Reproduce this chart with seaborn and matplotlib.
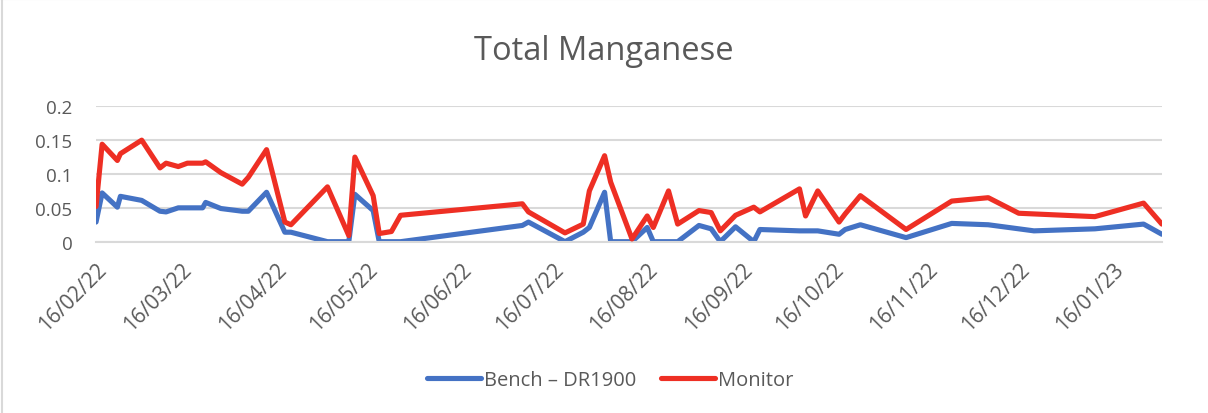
import numpy as np
import pandas as pd
import seaborn as sns
import matplotlib.dates as mdates
from matplotlib import pyplot as plt
from matplotlib.lines import Line2D

# days after 16/02/22 of each sample
days = [0, 2, 7, 8, 15, 21, 23, 27, 30, 35, 36, 41, 48, 50, 56, 62, 64, 76,
        83, 85, 91, 93, 97, 100, 140, 142, 154, 160, 162, 167, 169, 176, 181,
        183, 188, 191, 198, 202, 205, 210, 216, 218, 231, 233, 237, 244, 246,
        251, 266, 281, 293, 303, 308, 328, 344, 350]
bench = [0.029, 0.072, 0.051, 0.067, 0.061, 0.045, 0.044, 0.050, 0.050, 0.050,
         0.058, 0.049, 0.045, 0.045, 0.073, 0.014, 0.014, 0.0, 0.0, 0.070,
         0.046, 0.0, 0.0, 0.0, 0.024, 0.029, 0.0, 0.014, 0.021, 0.073, 0.0,
         0.0, 0.021, 0.0, 0.0, 0.0, 0.024, 0.019, 0.0, 0.022, 0.0, 0.018,
         0.016, 0.016, 0.016, 0.011, 0.018, 0.025, 0.006, 0.027, 0.025, 0.019,
         0.016, 0.019, 0.026, 0.011]
monitor = [0.052, 0.144, 0.120, 0.130, 0.150, 0.109, 0.116, 0.111, 0.116,
           0.116, 0.118, 0.102, 0.085, 0.095, 0.136, 0.029, 0.025, 0.081,
           0.009, 0.125, 0.068, 0.012, 0.015, 0.039, 0.056, 0.044, 0.013,
           0.026, 0.075, 0.127, 0.088, 0.004, 0.038, 0.021, 0.075, 0.026,
           0.046, 0.043, 0.016, 0.039, 0.051, 0.044, 0.078, 0.038, 0.075,
           0.029, 0.041, 0.068, 0.018, 0.060, 0.065, 0.042, 0.041, 0.037,
           0.057, 0.026]

BENCH_NAME = "Bench \u2013 DR1900"
MONITOR_NAME = "Monitor"
BLUE = "#4472C4"
RED = "#EE2F24"
TEXT = "#595959"
GRID = "#D9D9D9"

dates = pd.Timestamp("2022-02-16") + pd.to_timedelta(days, unit="D")
data = pd.concat([
    pd.DataFrame({"date": dates, "value": bench, "series": BENCH_NAME}),
    pd.DataFrame({"date": dates, "value": monitor, "series": MONITOR_NAME}),
], ignore_index=True)

sns.set_style("white")
plt.rcParams["font.family"] = ["Open Sans", "DejaVu Sans"]

fig = plt.figure(figsize=(12.08, 4.14), dpi=100)
ax = fig.add_axes([0.0795, 0.4138, 0.9618 - 0.0795, 0.7408 - 0.4138])

sns.lineplot(
    data=data, x="date", y="value", hue="series",
    hue_order=[BENCH_NAME, MONITOR_NAME], palette=[BLUE, RED],
    linewidth=3.7, legend=False, ax=ax,
)
# monitor drawn on top of bench
ax.lines[1].set_zorder(3)

ax.set_xlim(pd.Timestamp("2022-02-16"), pd.Timestamp("2023-02-01"))
ax.set_ylim(0, 0.2)
ax.set_yticks([0, 0.05, 0.1, 0.15, 0.2])
ax.set_yticklabels(["0", "0.05", "0.1", "0.15", "0.2"])
ax.xaxis.set_major_locator(mdates.MonthLocator(bymonthday=16))
ax.xaxis.set_major_formatter(mdates.DateFormatter("%d/%m/%y"))
ax.set_xlabel("")
ax.set_ylabel("")

ax.grid(axis="y", color=GRID, linewidth=1.5)
ax.grid(axis="x", visible=False)
for side in ["top", "right", "left"]:
    ax.spines[side].set_visible(False)
ax.spines["bottom"].set_color(GRID)
ax.spines["bottom"].set_linewidth(1.5)
ax.tick_params(axis="y", length=0, pad=17, labelsize=13.5, labelcolor=TEXT)
ax.tick_params(axis="x", length=6, width=1.5, color=GRID, pad=6,
               labelsize=15, labelcolor=TEXT)
for lbl in ax.get_xticklabels():
    lbl.set_rotation(45)
    lbl.set_ha("right")
    lbl.set_rotation_mode("anchor")

fig.text(0.5, 1 - 51 / 414, "Total Manganese", ha="center", va="center",
         fontsize=23.5, color=TEXT)

handles = [Line2D([], [], color=BLUE, linewidth=3.7, solid_capstyle="round"),
           Line2D([], [], color=RED, linewidth=3.7, solid_capstyle="round")]
fig.legend(handles, [BENCH_NAME, MONITOR_NAME], loc="center",
           bbox_to_anchor=(0.505, 1 - 381 / 414), ncol=2, frameon=False,
           fontsize=14.5, labelcolor=TEXT, handlelength=2.7,
           handletextpad=0.15, columnspacing=1.2)

# chart border (left and top visible)
fig.add_artist(Line2D([0.002, 0.002], [0, 1], color=GRID, linewidth=1.5,
                      transform=fig.transFigure))
fig.add_artist(Line2D([0, 1], [0.999, 0.999], color=GRID, linewidth=1.5,
                      transform=fig.transFigure))

fig.savefig("out.png", dpi=100, facecolor="white")
